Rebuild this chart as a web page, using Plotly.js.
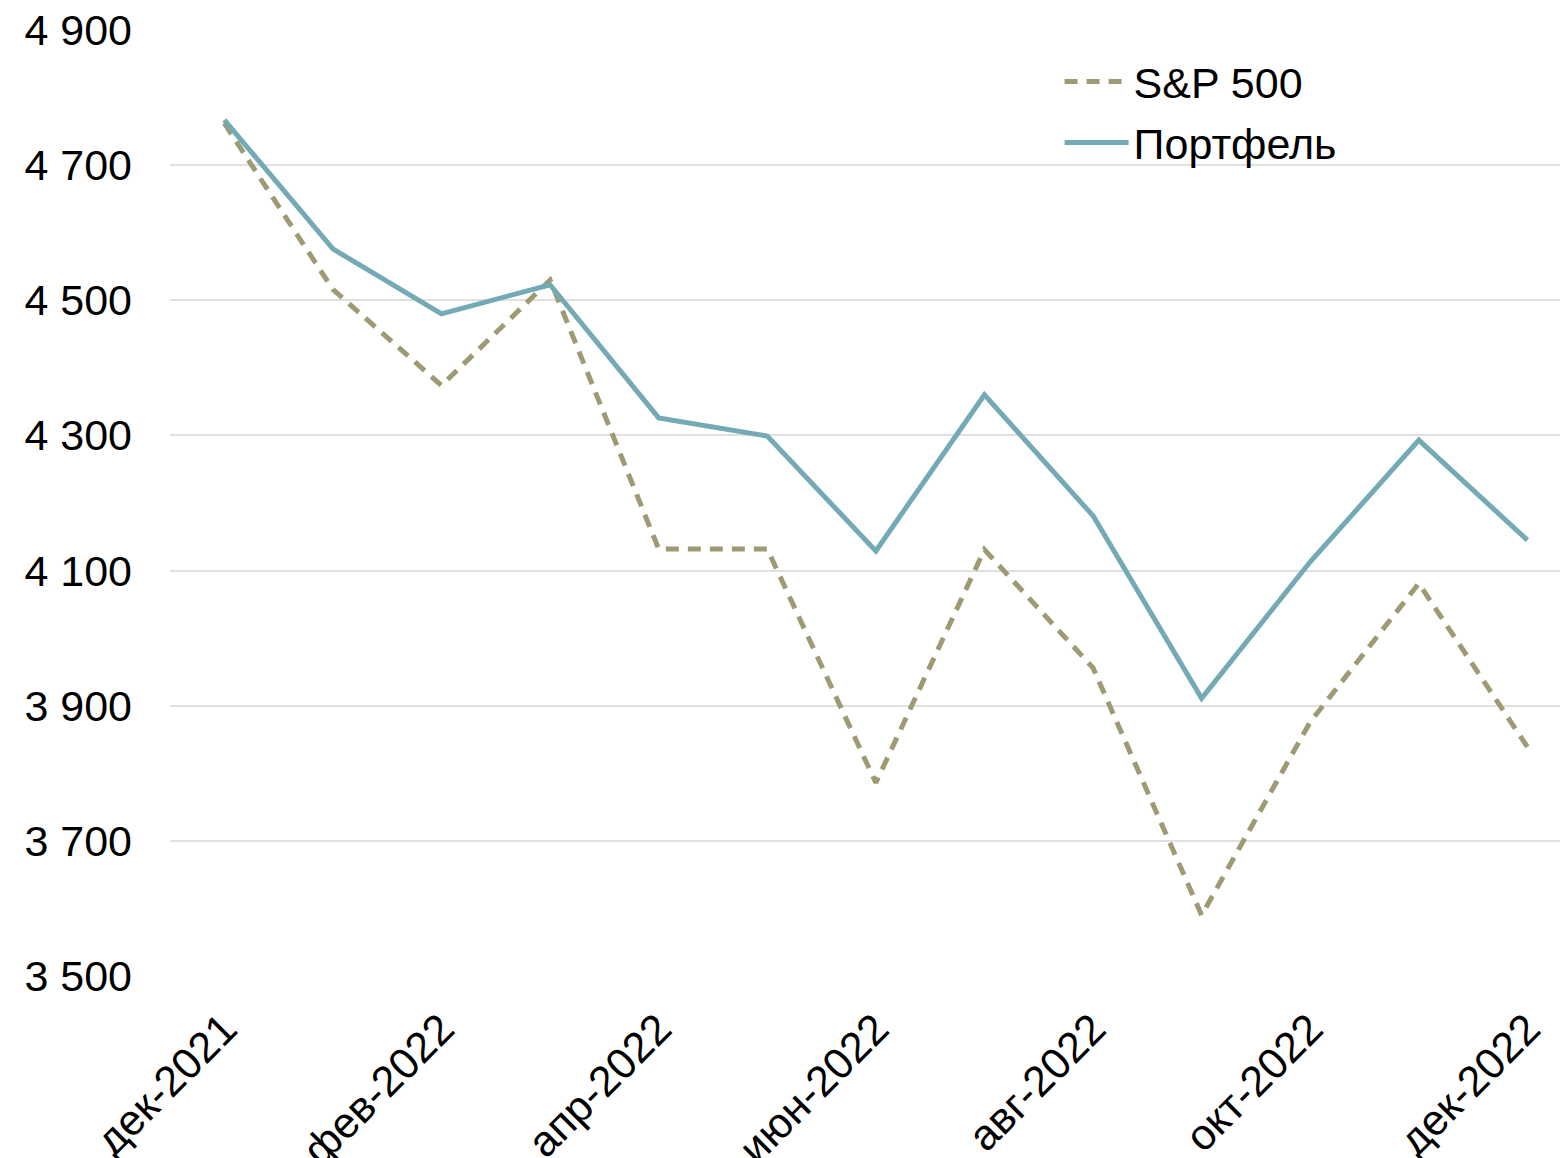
<!DOCTYPE html>
<html>
<head>
<meta charset="utf-8">
<script src="https://cdn.plot.ly/plotly-3.0.1.min.js"></script>
<style>html,body{margin:0;padding:0;background:#fff;}#chart{width:1560px;height:1158px;}</style>
</head>
<body>
<div id="chart"></div>
<script>
const months = ['дек-2021','янв-2022','фев-2022','мар-2022','апр-2022','май-2022','июн-2022','июл-2022','авг-2022','сен-2022','окт-2022','ноя-2022','дек-2022'];
const shownTicks = ['дек-2021','фев-2022','апр-2022','июн-2022','авг-2022','окт-2022','дек-2022'];
const sp500 = [4762, 4516, 4374, 4530, 4132, 4132, 3786, 4131, 3956, 3590, 3876, 4081, 3839];
const portfolio = [4767, 4576, 4480, 4523, 4326, 4299, 4129, 4360, 4181, 3911, 4113, 4293, 4145];
const yTicks = [3500, 3700, 3900, 4100, 4300, 4500, 4700, 4900];

const font = {family: '"Liberation Sans", Arial, sans-serif', size: 43, color: '#000'};

const traces = [
  {x: months, y: sp500, name: 'S&P 500', type: 'scatter', mode: 'lines', legendgroup: 'a',
   line: {color: '#9E9A74', width: 5, dash: '13px,9px'}, cliponaxis: false},
  {x: months, y: portfolio, name: 'Портфель', type: 'scatter', mode: 'lines', legendgroup: 'b',
   line: {color: '#74AAB5', width: 5}, cliponaxis: false}
];

const layout = {
  width: 1560, height: 1158,
  margin: {l: 170, r: 0, t: 30, b: 182},
  paper_bgcolor: '#fff', plot_bgcolor: '#fff',
  font: font,
  separators: ', ',
  showlegend: true,
  legend: {x: 0.640, y: 0.982, xanchor: 'left', yanchor: 'top', bgcolor: 'rgba(0,0,0,0)',
           font: font, itemwidth: 64, tracegroupgap: 2},
  xaxis: {type: 'category', range: [-0.5, 12.3], tickmode: 'array', tickvals: shownTicks, ticktext: shownTicks,
          tickangle: -45, showgrid: false, zeroline: false, showline: false, ticks: '',
          ticklabelstandoff: 18, tickfont: font, automargin: false},
  yaxis: {range: [3500, 4900], tickmode: 'array', tickvals: yTicks, tickformat: ',d',
          showgrid: true, gridcolor: '#e0e0e0', gridwidth: 2, zeroline: false, showline: false,
          ticks: '', ticklabelstandoff: 37, tickfont: font, automargin: false}
};

Plotly.newPlot('chart', traces, layout, {displayModeBar: false, staticPlot: true});
</script>
</body>
</html>
